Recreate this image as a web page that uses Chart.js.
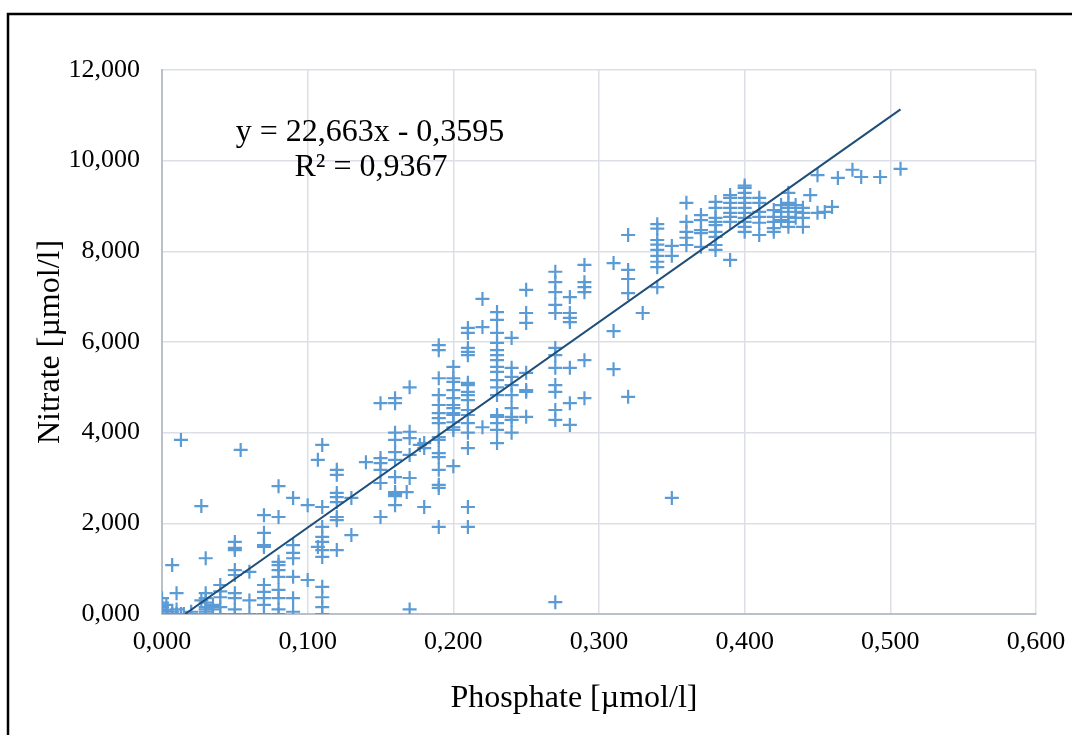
<!DOCTYPE html>
<html>
<head>
<meta charset="utf-8">
<script src="https://cdn.jsdelivr.net/npm/chart.js@4.4.1/dist/chart.umd.min.js"></script>
<style>
    html, body { margin: 0; padding: 0; background: #fff; }
    canvas { display: block; }
</style>
</head>
<body>
<canvas id="nutrientChart" width="1072" height="735"></canvas>
<script>
/* DATA - phosphate level and the nitrate values measured at that level */
const phosphateLevels = [
    0.000, 0.003, 0.007, 0.010, 0.013, 0.015, 0.020, 0.027, 0.030, 0.035,
    0.040, 0.050, 0.054, 0.060, 0.070, 0.080, 0.090, 0.100, 0.107, 0.110,
    0.120, 0.130, 0.140, 0.150, 0.160, 0.168, 0.170, 0.177, 0.180, 0.190,
    0.200, 0.210, 0.220, 0.230, 0.240, 0.250, 0.270, 0.280, 0.290, 0.310,
    0.320, 0.330, 0.340, 0.350, 0.360, 0.370, 0.380, 0.390, 0.400, 0.410,
    0.420, 0.425, 0.430, 0.435, 0.440, 0.445, 0.450, 0.455, 0.460, 0.464,
    0.474, 0.480, 0.493, 0.507
];
const nitrateByLevel = [
    [0, 0.05, 0.1, 0.15, 0.25, 0.35],
    [0, 0.08, 0.2],
    [1.08, 0, 0.05],
    [0.46, 0, 0.1],
    [3.84, 0],
    [0],
    [0, 0.05],
    [2.38, 0.3],
    [1.23, 0, 0.05, 0.1, 0.15, 0.25, 0.35, 0.46],
    [0.1, 0.2],
    [0.64, 0.37, 0.15, 0, 0.5],
    [1.59, 1.46, 1.41, 0.97, 0.86, 0.46, 0.35, 0, 0.1],
    [3.62],
    [0.93, 0.3, 0],
    [2.18, 1.79, 1.52, 1.48, 0.64, 0.49, 0.35, 0.2, 0],
    [2.82, 2.14, 1.15, 1.08, 0.97, 0.82, 0.53, 0.35, 0.1, 0],
    [2.56, 1.52, 1.35, 1.23, 0.82, 0.35, 0.05],
    [2.4, 0.75],
    [3.4, 1.48],
    [3.73, 2.36, 1.92, 1.7, 1.59, 1.41, 1.26, 0.6, 0.37, 0.15, 0],
    [3.18, 3.07, 2.67, 2.58, 2.47, 2.14, 2.07, 1.41],
    [2.56, 1.74],
    [3.35],
    [4.65, 3.44, 3.33, 3.18, 2.89, 2.14],
    [4.76, 4.65, 4.0, 3.84, 3.57, 3.4, 3.02, 2.69, 2.65, 2.6, 2.4],
    [2.69],
    [5.0, 4.02, 3.88, 3.51, 3.0, 0.1],
    [3.73],
    [3.77, 3.66, 2.36],
    [5.93, 5.82, 5.2, 4.83, 4.61, 4.43, 4.32, 4.21, 3.9, 3.84, 3.55, 3.46, 3.18, 2.85, 2.78, 1.92],
    [5.45, 5.2, 5.12, 4.94, 4.76, 4.61, 4.54, 4.43, 4.39, 4.23, 4.12, 4.06, 3.26],
    [6.31, 6.2, 5.87, 5.78, 5.71, 5.1, 5.05, 4.9, 4.83, 4.72, 4.5, 4.39, 4.21, 4.0, 3.66, 2.36, 1.92],
    [6.95, 6.33, 4.12],
    [6.66, 6.49, 6.2, 5.98, 5.82, 5.71, 5.6, 5.45, 5.34, 5.16, 5.0, 4.83, 4.39, 4.35, 4.21, 4.06, 3.77],
    [6.09, 5.43, 5.23, 5.05, 4.83, 4.54, 4.35, 4.28, 4.0],
    [7.15, 6.64, 6.42, 5.32, 4.94, 4.9, 4.35],
    [7.55, 7.32, 7.1, 6.82, 6.64, 5.87, 5.71, 5.43, 5.05, 4.9, 4.5, 4.28, 0.26],
    [6.99, 6.64, 6.53, 6.44, 5.43, 4.65, 4.17],
    [7.7, 7.32, 7.21, 7.1, 5.6, 4.76],
    [7.74, 6.24, 5.4],
    [8.36, 7.59, 7.39, 7.08, 4.79],
    [6.64],
    [8.6, 8.5, 8.25, 8.15, 8.03, 7.9, 7.77, 7.65, 7.21],
    [8.12, 7.9, 2.56],
    [9.07, 8.65, 8.43, 8.3, 8.14],
    [8.8, 8.69, 8.47, 8.4, 8.1],
    [9.09, 8.96, 8.74, 8.65, 8.58, 8.43, 8.32, 8.14, 8.03],
    [9.24, 9.18, 9.07, 8.96, 8.85, 8.76, 8.65, 7.81],
    [9.45, 9.4, 9.29, 9.18, 9.07, 8.96, 8.85, 8.74, 8.65, 8.54, 8.43],
    [9.18, 9.07, 8.87, 8.76, 8.63, 8.36],
    [8.91, 8.76, 8.65, 8.51, 8.43],
    [9.02, 8.87, 8.69],
    [9.29, 9.07, 8.96, 8.76, 8.65, 8.54],
    [9.02, 8.87, 8.74],
    [8.96, 8.85, 8.74, 8.54],
    [9.24],
    [9.68, 8.85],
    [8.87],
    [8.98],
    [9.62],
    [9.8],
    [9.64],
    [9.64],
    [9.82]
];

const xTickLabels = ["0,000", "0,100", "0,200", "0,300", "0,400", "0,500", "0,600"];
const yTickLabels = ["0,000", "2,000", "4,000", "6,000", "8,000", "10,000", "12,000"];

const trendSlope = 22.663;
const trendIntercept = -0.3595;
const equationText = "y = 22,663x - 0,3595";
const rSquaredText = "R\u00B2 = 0,9367";
const xTitle = "Phosphate [\u00B5mol/l]";
const yTitle = "Nitrate [\u00B5mol/l]";

const serif = "'Liberation Serif', 'Times New Roman', serif";

// flatten into scatter points
const points = [];
phosphateLevels.forEach((p, i) => {
    nitrateByLevel[i].forEach(n => points.push({ x: p, y: n }));
});

// trendline from where it crosses zero up to the last sample
const trendStart = -trendIntercept / trendSlope;
const trendEnd = Math.max(...phosphateLevels);
const trendPoints = [trendStart, trendEnd].map(x => ({ x: x, y: trendSlope * x + trendIntercept }));

Chart.defaults.font.family = serif;
Chart.defaults.color = "#000";

const frameAndText = {
    id: "frameAndText",
    beforeDraw(chart) {
        const ctx = chart.ctx;
        ctx.save();
        ctx.fillStyle = "#fff";
        ctx.fillRect(0, 0, chart.width, chart.height);
        ctx.restore();
    },
    afterDraw(chart) {
        const ctx = chart.ctx;
        ctx.save();
        ctx.strokeStyle = "#000";
        ctx.lineWidth = 2.5;
        ctx.strokeRect(8, 14, chart.width + 20, chart.height + 20);

        ctx.fillStyle = "#000";
        ctx.textAlign = "center";
        ctx.textBaseline = "middle";
        ctx.font = "32px " + serif;
        ctx.fillText(equationText, 370, 133);
        ctx.fillText(rSquaredText, 371, 168);
        ctx.fillText(xTitle, 574, 699);
        ctx.restore();
    }
};

new Chart(document.getElementById("nutrientChart"), {
    type: "scatter",
    data: {
        datasets: [
            {
                type: "line",
                label: "Trend",
                data: trendPoints,
                borderColor: "#1f4e79",
                borderWidth: 2,
                pointRadius: 0,
                fill: false,
                order: 0,
            },
            {
                label: "Nitrate",
                data: points,
                pointStyle: "cross",
                pointRadius: 7,
                pointHoverRadius: 7,
                borderWidth: 2.2,
                borderColor: "#5b9bd5",
                backgroundColor: "#5b9bd5",
                order: 1,
            },
        ],
    },
    options: {
        responsive: false,
        animation: false,
        layout: {
            padding: { top: 70, right: 36, left: 0, bottom: 0 },
        },
        plugins: {
            legend: { display: false },
            tooltip: { enabled: false },
        },
        scales: {
            x: {
                type: "linear",
                min: 0,
                max: 0.6,
                afterFit: scale => {
                    scale.height = 121;
                    scale.paddingLeft = 0;
                    scale.paddingRight = 0;
                },
                grid: { color: "#dcdfe6", lineWidth: 1.5, drawTicks: false },
                border: { color: "#b9c0cc", width: 2 },
                ticks: {
                    stepSize: 0.1,
                    padding: 13,
                    font: { size: 26 },
                    callback: (value, index) => xTickLabels[index],
                },
            },
            y: {
                min: 0,
                max: 12,
                afterFit: scale => {
                    scale.width = 162;
                    scale.paddingTop = 0;
                    scale.paddingBottom = 0;
                },
                grid: { color: "#dcdfe6", lineWidth: 1.5, drawTicks: false },
                border: { color: "#b9c0cc", width: 2 },
                ticks: {
                    stepSize: 2,
                    padding: 22,
                    font: { size: 26 },
                    callback: (value, index) => yTickLabels[index],
                },
                title: {
                    display: true,
                    text: yTitle,
                    font: { size: 32 },
                    padding: { top: 31, bottom: 0 },
                },
            },
        },
    },
    plugins: [frameAndText],
});
</script>
</body>
</html>
